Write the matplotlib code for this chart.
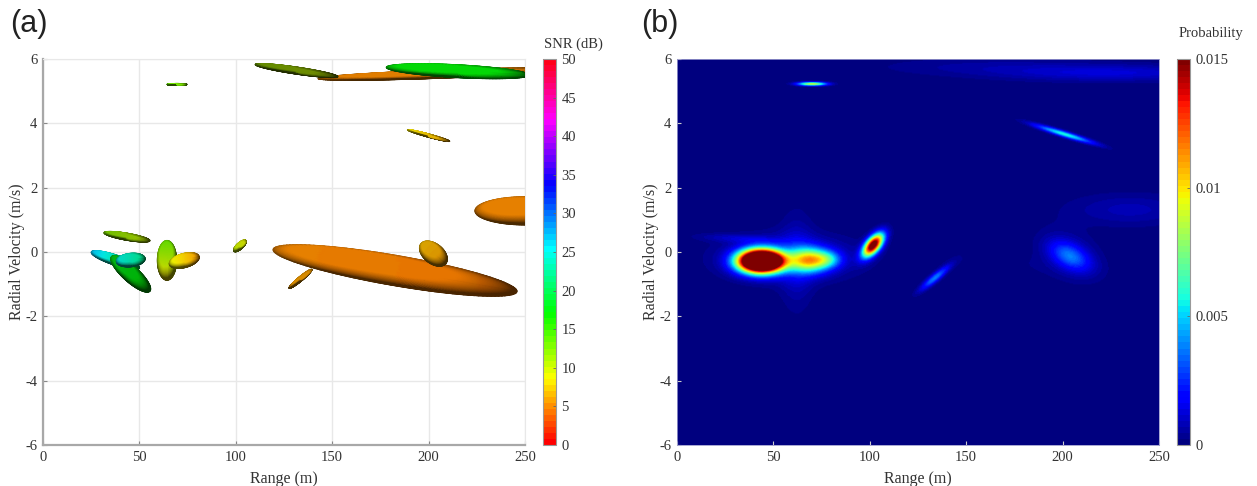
import numpy as np
import matplotlib
matplotlib.use("Agg")
import matplotlib.pyplot as plt

plt.rcParams["font.family"] = ["Liberation Serif", "DejaVu Serif"]
plt.rcParams["axes.unicode_minus"] = False

W, H = 1257, 486
TXT = "#333333"

x_ticks = [0, 50, 100, 150, 200, 250]
y_ticks = [-6, -4, -2, 0, 2, 4, 6]
snr_ticks = [0, 5, 10, 15, 20, 25, 30, 35, 40, 45, 50]
prob_ticks = [0, 0.005, 0.01, 0.015]
prob_labels = ["0", "0.005", "0.01", "0.015"]

# ellipses of panel a: ends of the long axis, half thickness, SNR at both ends
ell_r0 = [127.6, 119.3, 196, 224, 142.6, 110, 178, 64.3, 189, 31.6, 25, 35.5, 38, 64.3, 65.5, 99]
ell_v0 = [-1.13, 0.08, 0.26, 1.28, 5.39, 5.83, 5.74, 5.21, 3.8, 0.6, 0.0, -0.14, -0.3, 0.36, -0.39, 0.02]
ell_r1 = [139.5, 245.9, 209, 276, 268, 153, 252.5, 74.7, 211, 55.5, 50, 55.5, 53, 64.3, 81, 105.3]
ell_v1 = [-0.54, -1.23, -0.36, 1.28, 5.67, 5.45, 5.5, 5.21, 3.44, 0.35, -0.5, -1.22, -0.2, -0.88, -0.14, 0.36]
ell_half = [0.07, 0.47, 0.31, 0.44, 0.13, 0.11, 0.2, 0.03, 0.05, 0.11, 0.16, 0.25, 0.21, 0.3, 0.22, 0.1]
ell_snr0 = [5.5, 4.8, 6.5, 4.8, 4.8, 11, 17, 13, 8, 12, 27, 18, 25, 13, 9, 10]
ell_snr1 = [5.5, 4.2, 5.5, 4.8, 4.8, 10, 17, 12, 6, 10, 20, 17, 22, 8, 5.5, 9]
ell_gain = [0.85, 0.9, 0.85, 0.9, 0.88, 0.55, 0.85, 0.9, 0.9, 0.75, 0.9, 0.7, 0.85, 0.85, 0.95, 0.85]

# blobs of panel b: centre, spread, tilt, peak
blob_r = [43.5, 68.5, 78, 58, 62, 32, 101.7, 133.8, 70, 201, 204, 204, 225, 160, 235, 165]
blob_v = [-0.3, -0.27, -0.25, -0.2, -0.3, 0.4, 0.2, -0.82, 5.21, 3.65, -0.14, -0.1, 5.55, 5.75, 1.3, -0.35]
blob_sr = [7.6, 6.8, 5, 22, 6, 14, 3.6, 5, 5, 10, 7, 11, 40, 40, 22, 32]
blob_sv = [0.23, 0.25, 0.18, 0.45, 0.95, 0.1, 0.24, 0.25, 0.04, 0.19, 0.3, 0.55, 0.18, 0.2, 0.35, 0.3]
blob_rho = [0, 0, 0, 0, 0, -0.4, 0.6, 0.9, 0, -0.943, -0.45, -0.3, 0, 0, 0, -0.5]
blob_amp = [0.033, 0.0088, 0.0035, 0.0018, 0.001, 0.0009, 0.017, 0.0038, 0.009, 0.0058, 0.003, 0.0008, 0.0012, 0.0005, 0.0008, 0.0002]


def ax_px(x0, x1, y0, y1):
    return [x0 / W, 1 - y1 / H, (x1 - x0) / W, (y1 - y0) / H]


def style_axis(ax):
    ax.set_xlim(0, 250)
    ax.set_ylim(-6, 6)
    ax.set_xticks(x_ticks)
    ax.set_yticks(y_ticks)
    ax.tick_params(direction="in", length=3, width=0.8, color="#888888",
                   labelcolor=TXT, labelsize=10.5, pad=4)
    ax.set_xlabel("Range (m)", fontsize=11.5, color=TXT, labelpad=5)
    ax.set_ylabel("Radial Velocity (m/s)", fontsize=11.5, color=TXT)
    ax.yaxis.set_label_coords(-18 / 482, 0.5)


def draw_ellipse(ax, cmap, r0, v0, r1, v1, half, s0, s1, gain):
    # work in pixels so the long axis and the thickness stay square to each other
    sx, sy = 482 / 250, 386 / 12
    cx, cy = (r0 + r1) / 2, (v0 + v1) / 2
    ax_x, ax_y = (r1 - r0) / 2 * sx, (v1 - v0) / 2 * sy
    a = np.hypot(ax_x, ax_y)
    ux, uy = ax_x / a, ax_y / a
    b = half * sy
    rho, t = np.meshgrid(np.linspace(0, 1, 40), np.linspace(0, 2 * np.pi, 120))
    p = rho * np.cos(t)
    q = rho * np.sin(t)
    px = a * p * ux - b * q * uy
    py = a * p * uy + b * q * ux
    # surface normal of the ellipsoid, lit from upper left
    nx = p * ux - q * uy
    ny = p * uy + q * ux
    nz = np.sqrt(np.clip(1 - rho ** 2, 0, 1))
    diff = np.clip(-0.2 * nx + 0.45 * ny + 0.87 * nz, 0, 1)
    snr = s0 + (s1 - s0) * (p + 1) / 2
    col = cmap(snr / 50)[..., :3]
    shade = np.minimum(0.32 + 1.0 * diff, 1.0)[..., None] * gain
    rgb = np.clip(col * shade, 0, 1)
    ax.pcolormesh(cx + px / sx, cy + py / sy, rgb, shading="gouraud", zorder=3)


def probability(rr, vv):
    z = np.zeros_like(rr)
    for r, v, sr, sv, c, amp in zip(blob_r, blob_v, blob_sr, blob_sv, blob_rho, blob_amp):
        dx = (rr - r) / sr
        dy = (vv - v) / sv
        z += amp * np.exp(-(dx ** 2 - 2 * c * dx * dy + dy ** 2) / (2 * (1 - c ** 2)))
    return z


fig = plt.figure(figsize=(W / 100, H / 100), dpi=100)

# panel a
snr_cmap = plt.get_cmap("hsv", 64)
ax1 = fig.add_axes(ax_px(43, 525, 59, 445))
style_axis(ax1)
ax1.grid(True, color="#e8e8e8", lw=1)
ax1.set_axisbelow(True)
for side in ["top", "right"]:
    ax1.spines[side].set_color("#e8e8e8")
for side in ["left", "bottom"]:
    ax1.spines[side].set_color("#a8a8a8")
    ax1.spines[side].set_linewidth(1.6)
smooth_hsv = plt.get_cmap("hsv")
for i in range(len(ell_r0)):
    draw_ellipse(ax1, smooth_hsv, ell_r0[i], ell_v0[i], ell_r1[i], ell_v1[i],
                 ell_half[i], ell_snr0[i], ell_snr1[i], ell_gain[i])
ax1.set_xlim(0, 250)
ax1.set_ylim(-6, 6)

cax1 = fig.add_axes(ax_px(543, 556, 59, 445))
sm1 = plt.cm.ScalarMappable(norm=plt.Normalize(0, 50), cmap=snr_cmap)
cb1 = fig.colorbar(sm1, cax=cax1, ticks=snr_ticks)
cb1.ax.tick_params(length=2, width=0.6, color="#666666", labelcolor=TXT, labelsize=10.5, pad=4, direction="in")
cb1.outline.set_edgecolor("#999999")
fig.text(573 / W, 1 - 44 / H, "SNR (dB)", fontsize=10.5, color=TXT, ha="center", va="center")

# panel b
ax2 = fig.add_axes(ax_px(677, 1159, 59, 445))
rr, vv = np.meshgrid(np.linspace(0, 250, 500), np.linspace(-6, 6, 400))
im = ax2.imshow(probability(rr, vv), origin="lower", extent=[0, 250, -6, 6], aspect="auto",
                cmap=plt.get_cmap("jet", 64), vmin=0, vmax=0.015, interpolation="bilinear")
style_axis(ax2)
ax2.tick_params(color="#cccccc")
for s in ax2.spines.values():
    s.set_color("#9999cc")
    s.set_linewidth(0.6)

cax2 = fig.add_axes(ax_px(1177, 1190, 59, 445))
cb2 = fig.colorbar(im, cax=cax2, ticks=prob_ticks)
cb2.ax.set_yticklabels(prob_labels)
cb2.ax.tick_params(length=2, width=0.6, color="#666666", labelcolor=TXT, labelsize=10.5, pad=4, direction="in")
cb2.outline.set_edgecolor("#999999")
fig.text(1211 / W, 1 - 34 / H, "Probability", fontsize=10.5, color=TXT, ha="center", va="center")

fig.text(10 / W, 1 - 24 / H, "(a)", fontsize=22, color="#222222", family="Liberation Sans", va="center")
fig.text(641 / W, 1 - 24 / H, "(b)", fontsize=22, color="#222222", family="Liberation Sans", va="center")

fig.savefig("out.png", dpi=100)
